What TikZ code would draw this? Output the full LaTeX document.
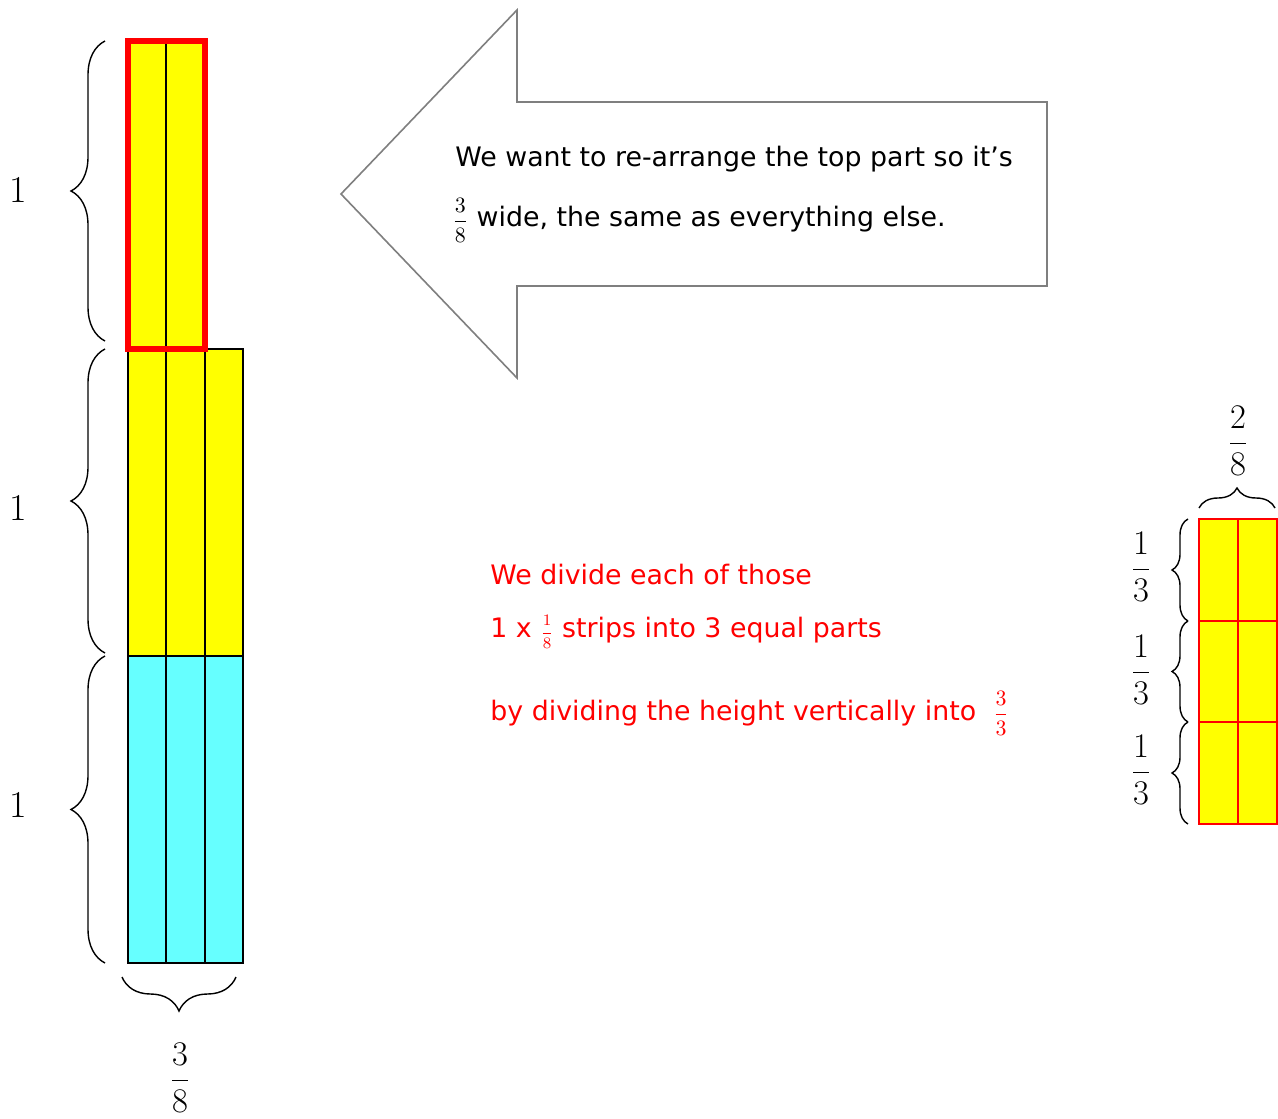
\documentclass[tikz,border=0pt]{standalone}
\usepackage{fontspec}
\newfontfamily\vf{DejaVu Sans}
\usetikzlibrary{decorations.pathreplacing}
\definecolor{cyanfill}{HTML}{66FFFF}
\definecolor{yelfill}{HTML}{FFFF00}
\definecolor{redc}{HTML}{FF0000}
\definecolor{arrowgray}{HTML}{7F7F7F}
\newcommand{\bigfr}[2]{$\displaystyle\frac{#1}{#2}$}
\newcommand{\txtfr}[3]{{\fontsize{#1}{#1}\selectfont$\displaystyle\frac{#2}{#3}$}}
\tikzset{
  cell/.style={draw=black, line width=0.75pt},
  bracel/.style={draw=black, line width=0.7pt, decorate, decoration={brace, amplitude=#1}},
  bigl/.style={font=\fontsize{19}{22}\selectfont, inner sep=0pt},
  txt/.style={font=\vf\fontsize{13.4}{16}\selectfont, anchor=base west, inner sep=0pt},
}
\begin{document}
\begin{tikzpicture}[x=0.5pt, y=-0.5pt]
\useasboundingbox (0,0) rectangle (1278,1118);
% left column
\fill[cyanfill] (128,656) rectangle (243,963);
\fill[yelfill] (128,349) rectangle (243,656);
\fill[yelfill] (128,41) rectangle (205,349);
\draw[cell] (128,656) rectangle (243,963);
\draw[cell] (166,656) -- (166,963);
\draw[cell] (205,656) -- (205,963);
\draw[cell] (128,349) rectangle (243,656);
\draw[cell] (166,349) -- (166,656);
\draw[cell] (205,349) -- (205,656);
\draw[cell] (166,41) -- (166,349);
\draw[redc, line width=2.6pt] (128,41) rectangle (205,349);
% left braces
\coordinate (b1a) at (105,341); \coordinate (b1b) at (105,41);
\coordinate (b2a) at (105,653); \coordinate (b2b) at (105,349);
\coordinate (b3a) at (105,963); \coordinate (b3b) at (105,656);
\draw[bracel=17pt] (b1a) -- (b1b);
\draw[bracel=17pt] (b2a) -- (b2b);
\draw[bracel=17pt] (b3a) -- (b3b);
\node[bigl] (one1) at (18,190) {1};
\node[bigl] (one2) at (18,508) {1};
\node[bigl] (one3) at (18,805) {1};
% bottom brace
\coordinate (bb1) at (236,977); \coordinate (bb2) at (122,977);
\draw[bracel=17pt] (bb1) -- (bb2);
\node[bigl] (w38) at (180,1078) {\bigfr{3}{8}};
% arrow
\draw[arrowgray, fill=white, line width=0.8pt] (341,194) -- (517,10) -- (517,102) -- (1047,102) -- (1047,286) -- (517,286) -- (517,378) -- cycle;
\node[txt] (t1) at (455,167) {We want to re-arrange the top part so it’s};
\node[txt] (t2) at (452,227) {\txtfr{11}{3}{8} wide, the same as everything else.};
% red text
\node[txt, text=redc] (r1) at (490,584) {We divide each of those};
\node[txt, text=redc] (r2) at (490,637) {1 x \txtfr{8.5}{1}{8} strips into 3 equal parts};
\node[txt, text=redc] (r3) at (490,720) {by dividing the height vertically into \ \txtfr{11}{3}{3}};
% right grid
\fill[yelfill] (1199,519) rectangle (1277,824);
\draw[redc, line width=0.8pt] (1199,519) rectangle (1277,824);
\draw[redc, line width=0.8pt] (1238,519) -- (1238,824);
\draw[redc, line width=0.8pt] (1199,621) -- (1277,621);
\draw[redc, line width=0.8pt] (1199,722) -- (1277,722);
\coordinate (rt1) at (1199,508); \coordinate (rt2) at (1275,508);
\draw[bracel=10pt] (rt1) -- (rt2);
\node[bigl] (f28) at (1238,441) {\bigfr{2}{8}};
\coordinate (rl1) at (1188,621); \coordinate (rl0) at (1188,519);
\coordinate (rl2) at (1188,722); \coordinate (rl3) at (1188,824);
\draw[bracel=8pt] (rl1) -- (rl0);
\draw[bracel=8pt] (rl2) -- (rl1);
\draw[bracel=8pt] (rl3) -- (rl2);
\node[bigl] (fa) at (1141,567) {\bigfr{1}{3}};
\node[bigl] (fb) at (1141,670) {\bigfr{1}{3}};
\node[bigl] (fc) at (1141,770) {\bigfr{1}{3}};
\end{tikzpicture}
\end{document}
